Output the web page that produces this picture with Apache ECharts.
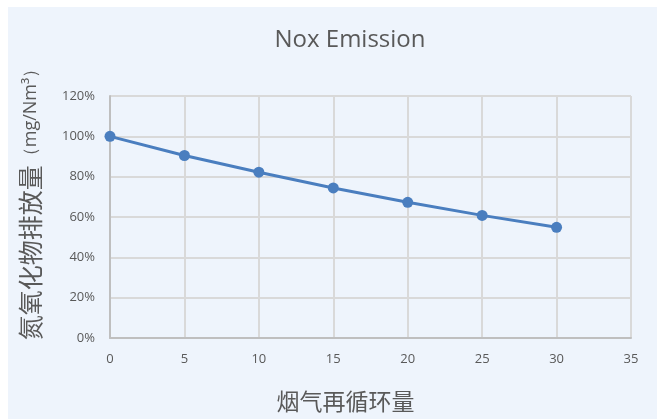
<!DOCTYPE html>
<html>
<head>
<meta charset="utf-8">
<script src="https://cdn.jsdelivr.net/npm/echarts@6/dist/echarts.min.js"></script>
<style>
  html, body { margin: 0; padding: 0; background: #ffffff; }
  #chart { width: 657px; height: 419px; }
</style>
</head>
<body>
<div id="chart"></div>
<script>
// Flue gas recirculation amount vs. relative NOx emission
const recirculation = [0, 5, 10, 15, 20, 25, 30];
const noxPercent = [100, 90.5, 82.2, 74.4, 67.3, 60.8, 54.9];
const xTicks = { min: 0, max: 35, interval: 5 };
const yTicks = { min: 0, max: 120, interval: 20 };

const points = recirculation.map((x, i) => [x, noxPercent[i]]);
const textColor = '#595959';
const cjkFont = '"Noto Sans CJK SC", sans-serif';
const latinFont = '"Open Sans", sans-serif';

const chart = echarts.init(document.getElementById('chart'), null, { renderer: 'canvas' });
chart.setOption({
  backgroundColor: '#ffffff',
  animation: false,
  graphic: [{
    type: 'rect',
    z: -10,
    shape: { x: 8, y: 7, width: 649, height: 412 },
    style: { fill: '#EEF4FC' }
  }],
  title: {
    text: 'Nox Emission',
    left: 345,
    top: 23,
    textAlign: 'center',
    textStyle: { color: textColor, fontSize: 24, fontWeight: 'normal', fontFamily: latinFont }
  },
  grid: { left: 110, right: 26, top: 96, bottom: 81, containLabel: false },
  xAxis: {
    type: 'value',
    min: xTicks.min, max: xTicks.max, interval: xTicks.interval,
    name: '烟气再循环量',
    nameLocation: 'middle',
    nameGap: 52,
    nameTextStyle: { color: textColor, fontSize: 23, fontFamily: cjkFont, padding: [0, 50, 0, 0] },
    axisLine: { show: true, lineStyle: { color: '#BFBFBF', width: 2 } },
    axisTick: { show: false },
    axisLabel: { color: textColor, fontSize: 13, margin: 15, fontFamily: latinFont },
    splitLine: { show: true, lineStyle: { color: '#D9D9D9', width: 2 } }
  },
  yAxis: {
    type: 'value',
    min: yTicks.min, max: yTicks.max, interval: yTicks.interval,
    name: '{a|氮氧化物排放量}{b|（mg/Nm³）}',
    nameLocation: 'middle',
    nameGap: 67,
    nameRotate: 90,
    nameTextStyle: {
      color: textColor,
      fontFamily: cjkFont,
      padding: [0, 0, 0, 34],
      rich: {
        a: { fontSize: 25, color: textColor, fontFamily: cjkFont },
        b: { fontSize: 18, color: textColor, fontFamily: latinFont }
      }
    },
    axisLine: { show: true, lineStyle: { color: '#BFBFBF', width: 2 } },
    axisTick: { show: false },
    axisLabel: { color: textColor, fontSize: 13, margin: 15, formatter: '{value}%', fontFamily: latinFont },
    splitLine: { show: true, lineStyle: { color: '#D9D9D9', width: 2 } }
  },
  series: [{
    type: 'line',
    data: points,
    symbol: 'circle',
    symbolSize: 11,
    lineStyle: { color: '#4A7EBF', width: 3 },
    itemStyle: { color: '#4A7EBF' }
  }]
});
</script>
</body>
</html>
